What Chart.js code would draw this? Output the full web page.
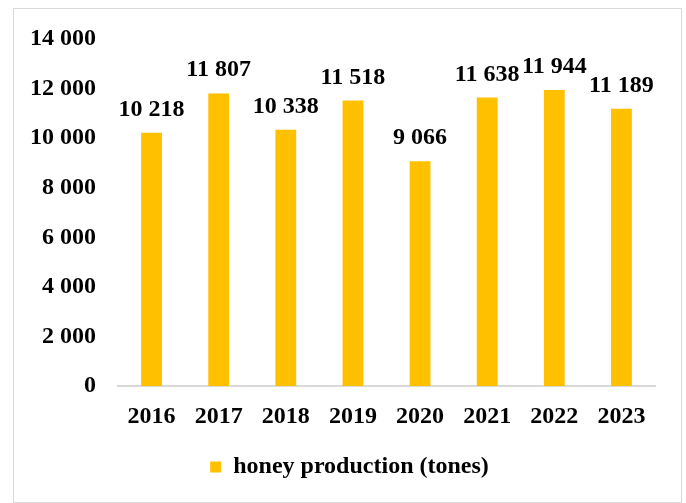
<!DOCTYPE html>
<html>
<head>
<meta charset="utf-8">
<script src="https://cdn.jsdelivr.net/npm/chart.js@4"></script>
<style>
html,body{margin:0;padding:0;background:#fff;}
#wrap{position:relative;width:686px;height:503px;}
#frame{position:absolute;left:13px;top:8px;width:669px;height:495px;border:1px solid #d9d9d9;box-sizing:border-box;}
canvas{position:absolute;left:0;top:0;}
</style>
</head>
<body>
<div id="wrap">
<div id="frame"></div>
<canvas id="c" width="686" height="503"></canvas>
</div>
<script>
const categories = ["2016","2017","2018","2019","2020","2021","2022","2023"];
const honeyProduction = [10218, 11807, 10338, 11518, 9066, 11638, 11944, 11189];
const seriesLabel = "honey production (tones)";
const yTicks = [0, 2000, 4000, 6000, 8000, 10000, 12000, 14000];

const FONT = "'Liberation Serif', 'Times New Roman', serif";
function fmt(v){ return String(v).replace(/\B(?=(\d{3})+(?!\d))/g, ' '); }

const labelPlugin = {
  id: 'barLabels',
  afterDatasetsDraw(chart){
    const ctx = chart.ctx;
    ctx.save();
    ctx.font = "bold 24px " + FONT;
    ctx.fillStyle = '#000';
    ctx.textAlign = 'center';
    ctx.textBaseline = 'alphabetic';
    chart.getDatasetMeta(0).data.forEach((bar, i) => {
      ctx.fillText(fmt(honeyProduction[i]), bar.x, bar.y - 17);
    });
    ctx.restore();
  }
};

// nudge the legend box so it is centred like the reference
const legendShift = {
  id: 'legendShift',
  afterLayout(chart){
    const lg = chart.legend;
    if (lg) { lg.left += 14; lg.right += 14; if (lg.adjustHitBoxes) lg.adjustHitBoxes(); }
  }
};

new Chart(document.getElementById('c'), {
  type: 'bar',
  data: {
    labels: categories,
    datasets: [{
      label: seriesLabel,
      data: honeyProduction,
      backgroundColor: '#FFC000',
      borderWidth: 0,
      barPercentage: 0.62,
      categoryPercentage: 0.5
    }]
  },
  options: {
    responsive: false,
    animation: false,
    layout: { padding: { left: 16, right: 31, top: 39, bottom: 14 } },
    plugins: {
      tooltip: { enabled: false },
      legend: {
        position: 'bottom',
        labels: {
          boxWidth: 11, boxHeight: 11, padding: 16,
          color: '#000',
          font: { family: FONT, size: 24, weight: 'bold' }
        }
      }
    },
    scales: {
      x: {
        grid: { display: false },
        border: { display: true, color: '#d9d9d9', width: 2 },
        ticks: { color: '#000', padding: 8, font: { family: FONT, size: 24, weight: 'bold' } }
      },
      y: {
        min: 0, max: 14000,
        afterBuildTicks(axis){ axis.ticks = yTicks.map(v => ({ value: v })); },
        grid: { display: false },
        border: { display: false },
        ticks: {
          color: '#000', padding: 14,
          font: { family: FONT, size: 24, weight: 'bold' },
          callback: v => fmt(v)
        }
      }
    }
  },
  plugins: [labelPlugin, legendShift]
});
</script>
</body>
</html>
